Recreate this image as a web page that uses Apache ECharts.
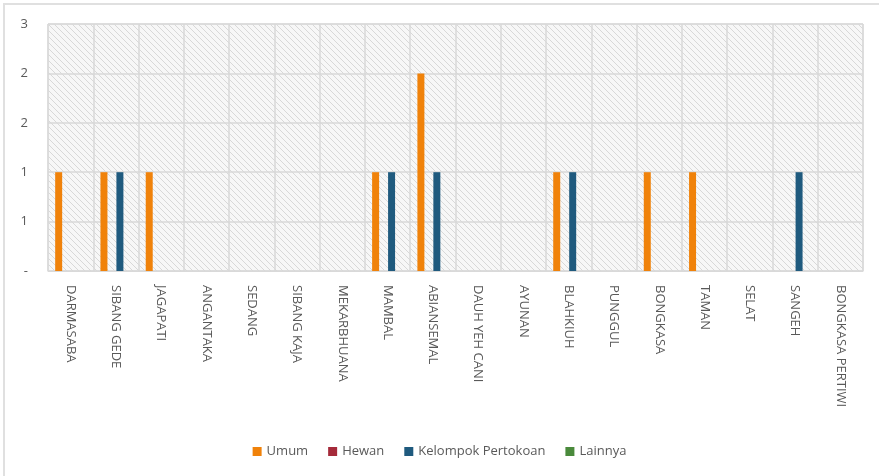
<!DOCTYPE html>
<html>
<head>
<meta charset="utf-8">
<script src="https://cdn.jsdelivr.net/npm/echarts@6/dist/echarts.min.js"></script>
<style>
html,body{margin:0;padding:0;background:#fff;}
#frame{position:absolute;left:3px;top:3px;width:876px;height:473px;border-left:2px solid #e0e0e0;border-top:2px solid #e0e0e0;box-sizing:border-box;}
#chart{position:absolute;left:0;top:0;width:879px;height:476px;}
</style>
</head>
<body>
<div id="frame"></div>
<div id="chart"></div>
<script>
var categories = ['DARMASABA','SIBANG GEDE','JAGAPATI','ANGANTAKA','SEDANG','SIBANG KAJA','MEKARBHUANA','MAMBAL','ABIANSEMAL','DAUH YEH CANI','AYUNAN','BLAHKIUH','PUNGGUL','BONGKASA','TAMAN','SELAT','SANGEH','BONGKASA PERTIWI'];
var seriesNames = ['Umum','Hewan','Kelompok Pertokoan','Lainnya'];
var umum      = [1,1,1,0,0,0,0,1,2,0,0,1,0,1,1,0,0,0];
var hewan     = [0,0,0,0,0,0,0,0,0,0,0,0,0,0,0,0,0,0];
var kelompok  = [0,1,0,0,0,0,0,1,1,0,0,1,0,0,0,0,1,0];
var lainnya   = [0,0,0,0,0,0,0,0,0,0,0,0,0,0,0,0,0,0];
var colors = ['#f0820a','#a52a3a','#1f5a7e','#4a8a3c'];

// hatch pattern for plot background
var pc = document.createElement('canvas');
pc.width = 6; pc.height = 6;
var g = pc.getContext('2d');
g.fillStyle = '#f7f7f7'; g.fillRect(0,0,6,6);
g.strokeStyle = '#d8d8d8'; g.lineWidth = 1;
g.beginPath(); g.moveTo(-1,-1); g.lineTo(7,7); g.stroke();
g.beginPath(); g.moveTo(-1,5); g.lineTo(1,7); g.stroke();
g.beginPath(); g.moveTo(5,-1); g.lineTo(7,1); g.stroke();

var chart = echarts.init(document.getElementById('chart'), null, {renderer:'canvas'});
var dataArr = [umum, hewan, kelompok, lainnya];
var series = seriesNames.map(function(n,i){
  return {name:n, type:'bar', data:dataArr[i], barWidth:7, barGap:'14%', itemStyle:{color:colors[i]}};
});
chart.setOption({
  animation:false,
  textStyle:{fontFamily:'"Open Sans", "Noto Sans", sans-serif'},
  grid:{left:48, right:16, top:24, bottom:205, show:true, backgroundColor:{image:pc, repeat:'repeat'}, borderColor:'#d9d9d9', borderWidth:1},
  legend:{bottom:13, left:'center', itemWidth:9, itemHeight:9, itemGap:20, icon:'rect',
    textStyle:{color:'#595959', fontSize:13, fontFamily:'"Open Sans", sans-serif'}, data:seriesNames},
  xAxis:{type:'category', data:categories,
    axisLine:{lineStyle:{color:'#d9d9d9'}}, axisTick:{show:false},
    splitLine:{show:true, lineStyle:{color:'#d9d9d9', width:1.5}},
    axisLabel:{rotate:-90, interval:0, color:'#595959', fontSize:13, margin:14, fontFamily:'"Open Sans", sans-serif'}},
  yAxis:{type:'value', min:0, max:2.5, interval:0.5,
    axisLine:{show:false}, axisTick:{show:false},
    splitLine:{lineStyle:{color:'#d9d9d9', width:1.5}},
    axisLabel:{color:'#595959', fontSize:13, margin:20, fontFamily:'"Open Sans", sans-serif',
      formatter:function(v){ return v===0 ? '-' : String(Math.round(v)); }}},
  series:series
});
</script>
</body>
</html>
